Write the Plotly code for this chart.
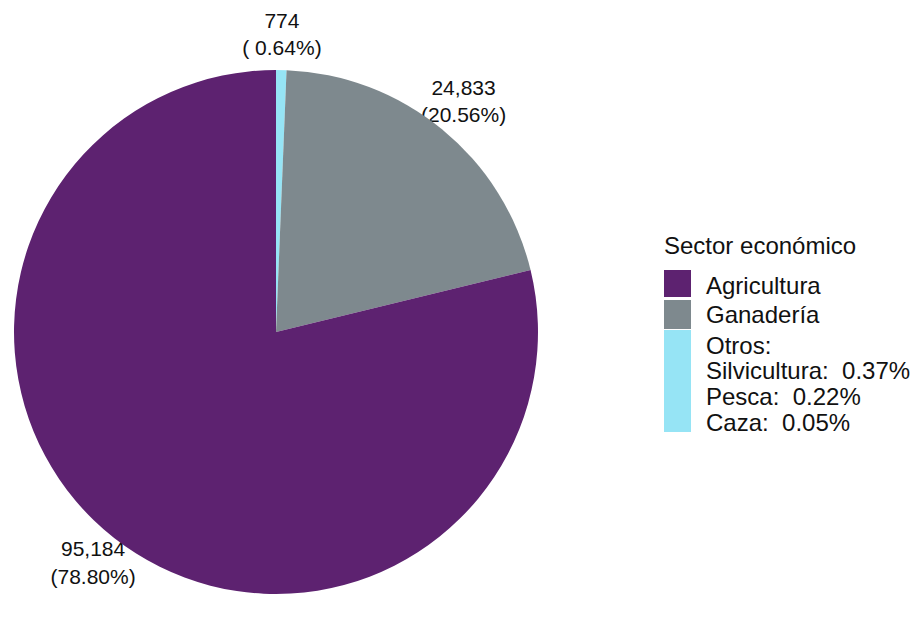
import math
import plotly.graph_objects as go

# data
sectors = ["Otros", "Ganadería", "Agricultura"]
values = [774, 24833, 95184]
colors = ["#96E4F5", "#7E898E", "#5D2270"]
otros_detail = ["Silvicultura", "Pesca", "Caza"]
otros_pct = [0.37, 0.22, 0.05]

# the page body adds an 8px margin, so the figure is 8px smaller than the window
W, H = 910, 632
OFF = 8
FONT = "Liberation Sans, Arial, sans-serif"
INK = "#111111"
NB = "\u00a0"
LABEL_R = 1.13  # label distance, in pie radii

total = sum(values)
labels_text = []
lab_x, lab_y = [], []
cum = 0
for v in values:
    pct = f"{100 * v / total:5.2f}".replace(" ", NB)
    labels_text.append(f"{v:,}<br>({pct}%)")
    ang = 2 * math.pi * (cum + v / 2) / total  # clockwise from 12 o'clock
    lab_x.append(LABEL_R * math.sin(ang))
    lab_y.append(LABEL_R * math.cos(ang))
    cum += v


def px_x(x):
    return (x - OFF) / W


def px_y(y):
    return 1 - (y - OFF) / H


# pie centre (276, 332), radius 262 in window pixels
CX, CY, R = 276 - OFF, 332 - OFF, 262
dom_x = [px_x(276 - R), px_x(276 + R)]
dom_y = [px_y(332 + R), px_y(332 - R)]

fig = go.Figure()
fig.add_trace(
    go.Pie(
        labels=sectors,
        values=values,
        textinfo="none",
        sort=False,
        direction="clockwise",
        rotation=0,
        marker=dict(colors=colors, line=dict(width=0)),
        domain=dict(x=dom_x, y=dom_y),
        showlegend=False,
        hoverinfo="label+value+percent",
    )
)

# value labels just outside the rim, at each slice's middle angle
fig.add_trace(
    go.Scatter(
        x=lab_x,
        y=lab_y,
        mode="text",
        text=labels_text,
        textposition="middle center",
        textfont=dict(family=FONT, size=21, color=INK),
        cliponaxis=False,
        showlegend=False,
        hoverinfo="skip",
    )
)

# hand-built legend (tall swatch for the "Otros" group)
LEG = dict(family=FONT, size=24, color=INK)
shapes = []
annotations = [
    dict(x=px_x(662), y=px_y(245), xref="paper", yref="paper",
         text="Sector económico", showarrow=False, xanchor="left", yanchor="middle",
         font=LEG)
]
swatch_rows = {"Agricultura": (270, 297), "Ganadería": (300, 329), "Otros": (330, 432)}
for name, col in zip(sectors, colors):
    top, bot = swatch_rows[name]
    shapes.append(dict(type="rect", xref="paper", yref="paper",
                       x0=px_x(664), x1=px_x(691), y0=px_y(bot), y1=px_y(top),
                       fillcolor=col, line=dict(width=0)))

legend_lines = [("Agricultura", 285), ("Ganadería", 315), ("Otros:", 345)]
otros_rows = [371, 397, 422]
for (n, p), y in zip(zip(otros_detail, otros_pct), otros_rows):
    legend_lines.append((f"{n}:{NB}{NB}{p:.2f}%", y))
for txt, y in legend_lines:
    annotations.append(dict(x=px_x(704), y=px_y(y), xref="paper", yref="paper",
                            text=txt, showarrow=False, xanchor="left", yanchor="middle",
                            font=LEG))

fig.update_layout(
    width=W,
    height=H,
    margin=dict(l=0, r=0, t=0, b=0),
    paper_bgcolor="white",
    plot_bgcolor="rgba(0,0,0,0)",
    # full-figure axes scaled so the pie centre is 0 and its rim is 1
    xaxis=dict(domain=[0, 1], range=[-CX / R, (W - CX) / R], visible=False, fixedrange=True),
    yaxis=dict(domain=[0, 1], range=[-(H - CY) / R, CY / R], visible=False, fixedrange=True),
    shapes=shapes,
    annotations=annotations,
)

fig.write_html("out.html")
